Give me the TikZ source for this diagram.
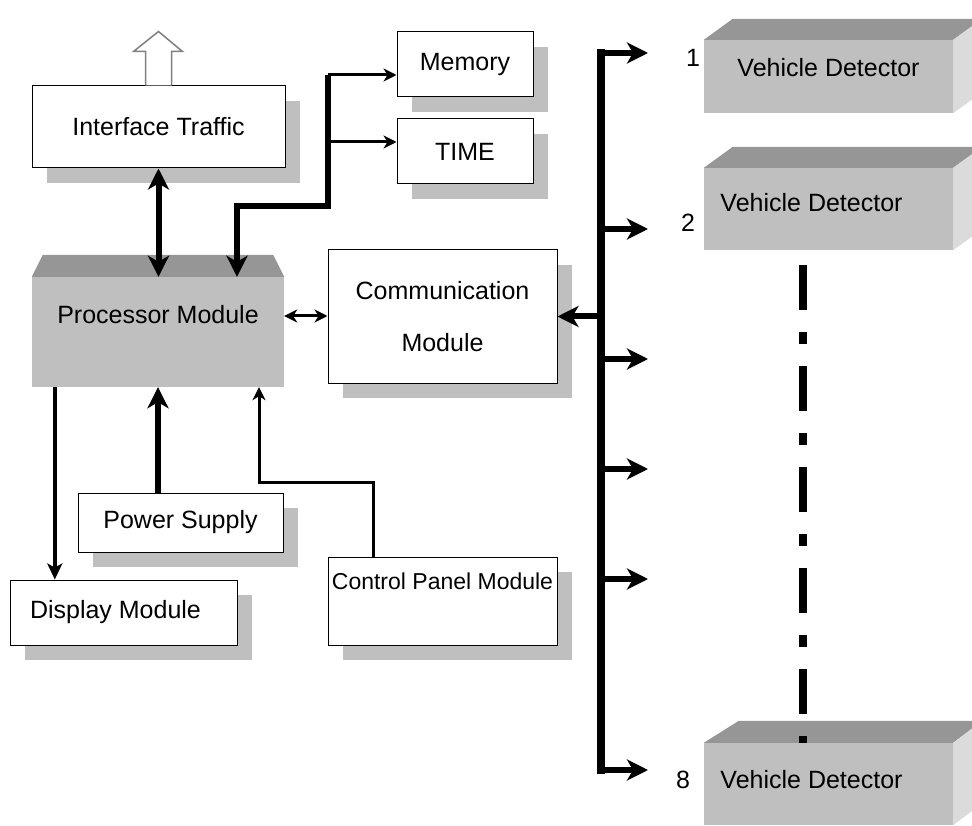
\documentclass[tikz,border=0pt]{standalone}
\usepackage{fontspec}
\setmainfont{Liberation Sans}
\usetikzlibrary{arrows.meta,shadows,calc}

\definecolor{facegray}{gray}{0.75}
\definecolor{topgray}{gray}{0.59}
\definecolor{sidegray}{gray}{0.86}
\definecolor{shadowgray}{gray}{0.75}
\definecolor{hollowgray}{gray}{0.5}

\begin{document}
\begin{tikzpicture}[x=1pt,y=-1pt,font=\fontsize{25}{30}\selectfont,
  block/.style={draw=black,line width=1pt,fill=white,inner sep=0pt,
    drop shadow={shadow xshift=15pt,shadow yshift=-15pt,fill=shadowgray,opacity=1}},
  solid3d/.style={fill=facegray,inner sep=0pt},
  detbox/.style={solid3d,minimum width=249pt,minimum height=82pt},
  bigarrow/.style={line width=6pt,-{Stealth[length=21pt,width=21pt,inset=6pt]}},
  bigboth/.style={line width=6pt,{Stealth[length=21pt,width=21pt,inset=6pt]}-{Stealth[length=21pt,width=21pt,inset=6pt]}},
  midarrow/.style={line width=4.5pt,-{Stealth[length=16pt,width=15pt,inset=4pt]}},
  smallarrow/.style={line width=3pt,-{Stealth[length=13pt,width=13pt,inset=4pt]}},
  smallboth/.style={line width=3pt,{Stealth[length=13pt,width=13pt,inset=4pt]}-{Stealth[length=13pt,width=13pt,inset=4pt]}},
  busline/.style={line width=8pt,line cap=rect},
  numlabel/.style={font=\fontsize{25}{30}\selectfont,inner sep=0pt}]
\clip (0,0) rectangle (972,826);

% boxes with shadows
\node[block,minimum width=253pt,minimum height=82pt] (itf) at (158.5,127) {Interface Traffic};
\node[block,minimum width=136pt,minimum height=65pt] (mem) at (465,64.5) {Memory};
\node[block,minimum width=136pt,minimum height=65pt] (time) at (465,151.5) {TIME};
\node[block,minimum width=229pt,minimum height=133pt,align=center] (comm) at (442.5,316.5) {Communication\\[22pt]Module};
\node[block,minimum width=205pt,minimum height=59pt] (pow) at (180.5,522.5) {Power Supply};
\node[block,minimum width=227pt,minimum height=65pt,
  label={[xshift=-8pt]center:Display Module}] (disp) at (123.5,612.5) {};
\node[block,minimum width=229pt,minimum height=88pt,
  label={[yshift=20pt,font=\fontsize{23}{27}\selectfont]center:Control Panel Module}] (ctrl) at (442.5,601) {};

% processor block
\node[solid3d,minimum width=252pt,minimum height=110pt,
  label={[yshift=17pt]center:Processor Module}] (proc) at (158,332) {};
\fill[topgray] (proc.north west) -- ++(11,-22) -- ($(proc.north east)+(-11,-22)$) -- (proc.north east) -- cycle;

% vehicle detectors
\node[detbox,minimum height=73pt,label={[yshift=8.5pt]center:Vehicle Detector}] (det1) at (828.5,76.5) {};
\fill[topgray] (det1.north west) -- ++(29,-21) -- ($(det1.north east)+(29,-21)$) -- (det1.north east) -- cycle;
\fill[sidegray] (det1.north east) -- ++(29,-21) -- ($(det1.south east)+(29,-21)$) -- (det1.south east) -- cycle;
\node[detbox,label={[xshift=-17pt,yshift=6pt]center:Vehicle Detector}] (det2) at (828.5,209) {};
\fill[topgray] (det2.north west) -- ++(29,-21) -- ($(det2.north east)+(29,-21)$) -- (det2.north east) -- cycle;
\fill[sidegray] (det2.north east) -- ++(29,-21) -- ($(det2.south east)+(29,-21)$) -- (det2.south east) -- cycle;
\node[detbox,label={[xshift=-17pt,yshift=4pt]center:Vehicle Detector}] (det8) at (828.5,784) {};
\fill[topgray] (det8.north west) -- ++(35,-22) -- ($(det8.north east)+(29,-22)$) -- (det8.north east) -- cycle;
\fill[sidegray] (det8.north east) -- ++(29,-22) -- ($(det8.south east)+(29,-22)$) -- (det8.south east) -- cycle;

\node[numlabel] (n1) at (693,58) {1};
\node[numlabel] (n2) at (688,223) {2};
\node[numlabel] (n8) at (683,780) {8};

% hollow arrow out of the interface
\draw[hollowgray,line width=1.5pt,line join=miter,fill=white]
  ([xshift=-13pt]itf.north) -- ++(0,-34) -- ++(-12,0) -- ++(25,-20) -- ++(24,20) -- ++(-11,0) -- ++(0,34);

% links around the processor
\draw[bigboth] (itf.south) -- (itf.south |- proc.north);
\coordinate (trunktop) at (328,75);
\coordinate (trunkmid) at (328,142);
\coordinate (trunkbend) at (328,206);
\draw[bigarrow,line join=miter] (trunktop) -- (trunkbend) -| ([xshift=79pt]proc.north);
\draw[smallarrow] (trunktop) -- (trunktop -| mem.west);
\draw[smallarrow] (trunkmid) -- (trunkmid -| time.west);
\draw[smallboth] ([yshift=16pt]proc.east) -- ([yshift=16pt]proc.east -| comm.west);
\draw[midarrow] ([xshift=23pt]proc.south west) -- ([xshift=23pt]proc.south west |- disp.north);
\draw[bigarrow] (proc.south |- pow.north) -- (proc.south);
\coordinate (ctrlbend) at (259,482);
\draw[smallarrow,line join=miter] ([xshift=-69.5pt]ctrl.north) |- (ctrlbend) -- (ctrlbend |- proc.south);

% detector bus
\coordinate (bustop) at (601,53);
\coordinate (busbot) at (601,770);
\draw[busline] (bustop) -- (busbot);
\draw[bigarrow] (busbot |- comm.east) -- (comm.east);
\foreach \y in {53,229,359,469,579,770}
  \draw[bigarrow] (601,\y) -- (648,\y);

% dash-dot continuation of the detectors
\draw[line width=8pt,dash pattern=on 45pt off 22pt on 12pt off 22pt] (det2.south -| 803,0) ++(0,15) -- (det8.north -| 803,0);
\end{tikzpicture}
\end{document}
